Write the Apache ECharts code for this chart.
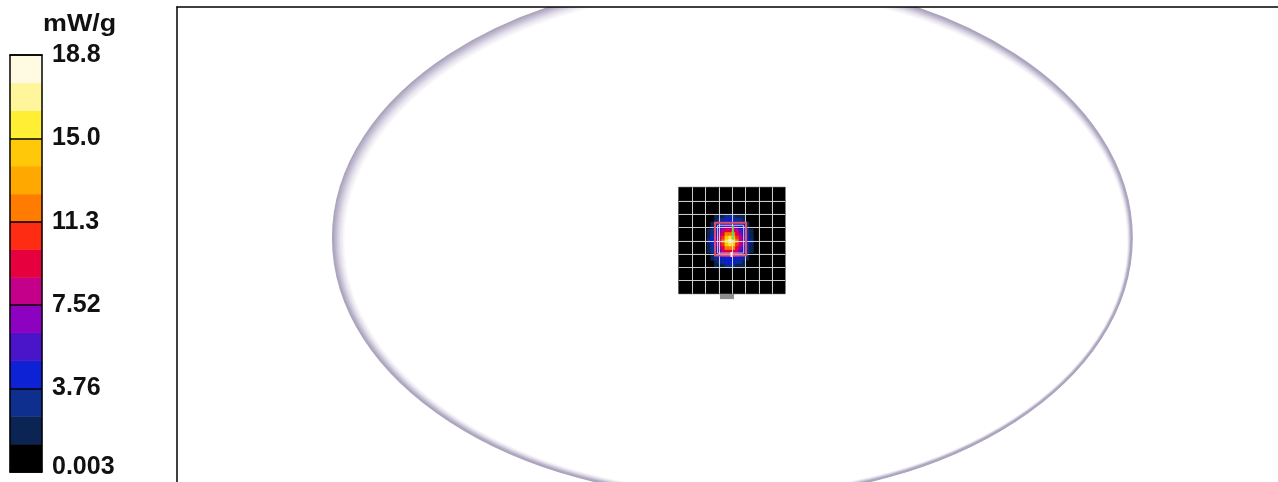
<!DOCTYPE html>
<html><head><meta charset="utf-8">
<script src="https://cdn.jsdelivr.net/npm/echarts@6/dist/echarts.min.js"></script>
<style>html,body{margin:0;padding:0;background:#fff}#c{width:1278px;height:482px}</style>
</head><body><div id="c"></div>
<script>
// ---------- legend (colour scale) ----------
const unitLabel = 'mW/g';
const tickLabels = ['0.003', '3.76', '7.52', '11.3', '15.0', '18.8'];
const tickStep = 3.76;
const scaleMax = 18.8;
const bandBreaks = [0.003, 1.256, 2.51, 3.76, 5.01, 6.27, 7.52, 8.77, 10.03, 11.3, 12.53, 13.79, 15.0, 16.29, 17.55, 18.8];
const bandColors = ['#000000', '#0c2454', '#0e2f8e', '#0c22d4', '#4a14c8', '#8c02c0', '#c4008a', '#e6003e', '#ff2c14',
  '#ff7c00', '#ffa800', '#ffc808', '#ffee34', '#fff59a', '#fffbe2'];

// ---------- phantom outline (mm): centre x, centre y, radius x, radius y ----------
const phantom = [[0.5, 0, 451, 293]];

// ---------- coarse area scan (15 mm grid) ----------
const areaXEdges = [-60, -45, -30, -15, 0, 15, 30, 45, 60];
const areaYEdges = [57, 42, 27, 12, -3, -18, -33, -48, -63];
const areaValues = [
  [0.3, 0.3, 0.4, 0.4, 0.4, 0.4, 0.3, 0.3],
  [0.3, 0.4, 0.5, 0.6, 0.6, 0.5, 0.4, 0.3],
  [0.4, 0.5, 0.7, 0.9, 0.9, 0.7, 0.5, 0.4],
  [0.4, 0.6, 0.9, 1.0, 1.0, 0.9, 0.6, 0.4],
  [0.4, 0.6, 0.9, 1.0, 1.0, 0.9, 0.6, 0.4],
  [0.4, 0.5, 0.7, 0.9, 0.9, 0.7, 0.5, 0.4],
  [0.3, 0.4, 0.5, 0.6, 0.6, 0.5, 0.4, 0.3],
  [0.3, 0.3, 0.4, 0.4, 0.4, 0.4, 0.3, 0.3]
];

// ---------- zoom scan (4 mm cells around the peak) ----------
const zoomStep = 4;
const zoomXCenters = [-26, -22, -18, -14, -10, -6, -2, 2, 6, 10, 14, 18, 22];
const zoomYCenters = [24, 20, 16, 12, 8, 4, 0, -4, -8, -12, -16, -20, -24, -28, -32];
const zoomValues = [
  [0.3, 0.7, 1.3, 2.0, 2.5, 2.7, 2.7, 2.7, 2.5, 2.0, 1.3, 0.7, 0.3],
  [0.4, 0.7, 1.5, 2.6, 3.4, 3.9, 4.1, 3.9, 3.4, 2.6, 1.5, 0.7, 0.4],
  [0.6, 1.4, 2.8, 3.9, 4.2, 4.9, 5.0, 4.9, 4.2, 3.9, 2.8, 1.4, 0.6],
  [0.9, 2.2, 3.8, 4.4, 5.7, 6.9, 7.4, 6.9, 5.7, 4.4, 3.8, 2.2, 0.9],
  [1.4, 3.0, 4.1, 5.6, 7.8, 9.4, 10.0, 9.4, 7.8, 5.6, 4.1, 3.0, 1.4],
  [2.1, 3.7, 4.7, 7.0, 9.7, 11.7, 12.5, 11.7, 9.7, 7.0, 4.7, 3.7, 2.1],
  [2.5, 4.1, 5.2, 8.1, 11.0, 13.9, 15.8, 13.9, 11.0, 8.1, 5.2, 4.1, 2.5],
  [2.7, 4.3, 5.3, 8.5, 11.5, 15.2, 18.5, 15.2, 11.5, 8.5, 5.3, 4.3, 2.7],
  [2.5, 4.1, 5.2, 8.1, 11.0, 13.9, 15.8, 13.9, 11.0, 8.1, 5.2, 4.1, 2.5],
  [2.1, 3.7, 4.7, 7.0, 9.7, 11.7, 12.5, 11.7, 9.7, 7.0, 4.7, 3.7, 2.1],
  [1.4, 3.0, 4.1, 5.6, 7.8, 9.4, 10.0, 9.4, 7.8, 5.6, 4.1, 3.0, 1.4],
  [0.9, 2.2, 3.8, 4.4, 5.7, 6.9, 7.4, 6.9, 5.7, 4.4, 3.8, 2.2, 0.9],
  [0.6, 1.4, 2.8, 3.9, 4.2, 4.9, 5.0, 4.9, 4.2, 3.9, 2.8, 1.4, 0.6],
  [0.4, 0.7, 1.5, 2.6, 3.4, 3.9, 4.1, 3.9, 3.4, 2.6, 1.5, 0.7, 0.4],
  [0.3, 0.7, 1.3, 2.0, 2.5, 2.7, 2.7, 2.7, 2.5, 2.0, 1.3, 0.7, 0.3]
];

// zoom-scan box [x0, y0, x1, y1] (mm), probe markers and device marker
const zoomBox = [[-19, -20, 16, 17]];
const probeLines = [[1, 13, 1, -2], [-0.5, -16, -0.5, -21.5]];
const deviceMarker = [[-13.5, -69, 2.3, -63.2]];

// ---------- build data ----------
const areaData = [];
areaValues.forEach((row, r) => row.forEach((v, c) => {
  areaData.push([(areaXEdges[c] + areaXEdges[c + 1]) / 2, (areaYEdges[r] + areaYEdges[r + 1]) / 2, v,
    areaXEdges[c], areaYEdges[r], areaXEdges[c + 1], areaYEdges[r + 1]]);
}));
const zoomData = [];
zoomValues.forEach((row, r) => row.forEach((v, c) => zoomData.push([zoomXCenters[c], zoomYCenters[r], v])));
const gridLineData = [];
areaXEdges.slice(1, -1).forEach(x => gridLineData.push([x, 0]));
areaYEdges.slice(1, -1).forEach(y => gridLineData.push([y, 1]));
const bandData = bandColors.map((col, i) => [bandBreaks[i], bandBreaks[i + 1], i]);
const pieces = bandColors.map((col, i) => i === bandColors.length - 1
  ? { gte: bandBreaks[i], lte: bandBreaks[i + 1], color: col }
  : { gte: bandBreaks[i], lt: bandBreaks[i + 1], color: col });

const FONT = '"Liberation Sans", Arial, sans-serif';
const chart = echarts.init(document.getElementById('c'));
const noAxisParts = { axisTick: { show: false }, axisLabel: { show: false }, splitLine: { show: false } };
const blackLine = { show: true, onZero: false, lineStyle: { color: '#000', width: 1.5 } };
const rimColors = ['#aca5bd', '#b8b1c8', '#c5bfd3', '#d2cddd', '#dedae7', '#e9e6ef', '#f1eff5', '#f8f7fa'];

function rectFrom(api, x0, y0, x1, y1) {
  const a = api.coord([x0, y0]);
  const b = api.coord([x1, y1]);
  return { x: Math.min(a[0], b[0]), y: Math.min(a[1], b[1]), width: Math.abs(b[0] - a[0]), height: Math.abs(b[1] - a[1]) };
}

chart.setOption({
  animation: false,
  backgroundColor: '#fff',
  grid: [
    { left: 177, top: 7, right: 0, bottom: 0 },
    { left: 10, top: 55, width: 32, height: 417 }
  ],
  xAxis: [
    Object.assign({ gridIndex: 0, type: 'value', min: -625, max: 615, position: 'top', z: 10, axisLine: blackLine }, noAxisParts),
    Object.assign({ gridIndex: 1, type: 'value', min: 0, max: 1, position: 'bottom', z: 10, axisLine: blackLine }, noAxisParts),
    Object.assign({ gridIndex: 1, type: 'value', min: 0, max: 1, position: 'top', z: 10, axisLine: blackLine }, noAxisParts)
  ],
  yAxis: [
    Object.assign({ gridIndex: 0, type: 'value', min: -275, max: 260, position: 'left', z: 10, axisLine: blackLine }, noAxisParts),
    {
      gridIndex: 1, type: 'value', min: 0, max: scaleMax, interval: tickStep, position: 'right', z: 10,
      axisLine: blackLine,
      axisTick: { show: true, inside: true, length: 32, lineStyle: { color: '#000', width: 1.5 } },
      splitLine: { show: false },
      axisLabel: {
        show: true, margin: 10, color: '#111', fontFamily: FONT, fontWeight: 'bold', fontSize: 25,
        formatter: v => {
          const i = Math.round(v / tickStep);
          return i === 0 ? '{low|' + tickLabels[0] + '}' : tickLabels[i];
        },
        rich: { low: { padding: [0, 0, 10, 0], color: '#111', fontFamily: FONT, fontWeight: 'bold', fontSize: 25 } }
      }
    },
    Object.assign({ gridIndex: 1, type: 'value', min: 0, max: scaleMax, position: 'left', z: 10, axisLine: blackLine }, noAxisParts)
  ],
  visualMap: {
    type: 'piecewise', show: false, dimension: 2, seriesIndex: [2, 3], pieces: pieces
  },
  graphic: [{
    type: 'text', x: 43, y: 12, scaleX: 1.12,
    style: { text: unitLabel, font: 'bold 24px ' + FONT, fill: '#111', textVerticalAlign: 'top' }
  }],
  series: [
    { // 0 colour scale bar
      type: 'custom', xAxisIndex: 1, yAxisIndex: 1, data: bandData, z: 2,
      renderItem: (p, api) => ({
        type: 'rect', shape: rectFrom(api, 0, api.value(0), 1, api.value(1)),
        style: { fill: bandColors[api.value(2)], stroke: bandColors[api.value(2)], lineWidth: 0.5 }
      })
    },
    { // 1 phantom outline
      type: 'custom', xAxisIndex: 0, yAxisIndex: 0, data: phantom, z: 1, silent: true,
      renderItem: (p, api) => {
        const c = api.coord([api.value(0), api.value(1)]);
        const s = api.size([api.value(2), api.value(3)]);
        const cs = p.coordSys;
        const children = [];
        for (let k = rimColors.length - 1; k >= 0; k--) {
          children.push({
            type: 'ellipse',
            shape: { cx: c[0] + k * 0.5, cy: c[1] + k * 0.45, rx: s[0] - 1 - k * 1.0, ry: s[1] - 1 - k * 1.0 },
            style: { fill: 'none', stroke: rimColors[k], lineWidth: 2 }
          });
        }
        return {
          type: 'group',
          clipPath: { type: 'rect', shape: { x: cs.x, y: cs.y, width: cs.width, height: cs.height } },
          children: children
        };
      }
    },
    { // 2 coarse area scan
      type: 'custom', xAxisIndex: 0, yAxisIndex: 0, data: areaData, z: 2,
      encode: { x: 0, y: 1 },
      renderItem: (p, api) => {
        const col = api.visual('color');
        return { type: 'rect', shape: rectFrom(api, api.value(3), api.value(4), api.value(5), api.value(6)),
          style: { fill: col, stroke: col, lineWidth: 0.5 } };
      }
    },
    { // 3 fine zoom scan
      type: 'custom', xAxisIndex: 0, yAxisIndex: 0, data: zoomData, z: 3, encode: { x: 0, y: 1 },
      renderItem: (p, api) => {
        const col = api.visual('color');
        const x = api.value(0), y = api.value(1), h = zoomStep / 2;
        return { type: 'rect', shape: rectFrom(api, x - h, y - h, x + h, y + h),
          style: { fill: col, stroke: col, lineWidth: 0.6 } };
      }
    },
    { // 4 area-scan grid lines
      type: 'custom', xAxisIndex: 0, yAxisIndex: 0, data: gridLineData, z: 4, silent: true,
      renderItem: (p, api) => {
        const v = api.value(0), o = api.value(1);
        const x0 = areaXEdges[0], x1 = areaXEdges[areaXEdges.length - 1];
        const y0 = areaYEdges[0], y1 = areaYEdges[areaYEdges.length - 1];
        const a = o === 0 ? api.coord([v, y0]) : api.coord([x0, v]);
        const b = o === 0 ? api.coord([v, y1]) : api.coord([x1, v]);
        const snap = t => Math.round(t) + 0.5;
        const shape = o === 0
          ? { x1: snap(a[0]), y1: a[1], x2: snap(b[0]), y2: b[1] }
          : { x1: a[0], y1: snap(a[1]), x2: b[0], y2: snap(b[1]) };
        return { type: 'line', shape: shape, style: { stroke: 'rgba(225,225,225,0.9)', lineWidth: 1 } };
      }
    },
    { // 5 zoom-scan box
      type: 'custom', xAxisIndex: 0, yAxisIndex: 0, data: zoomBox, z: 5, silent: true,
      renderItem: (p, api) => {
        const r = rectFrom(api, api.value(0), api.value(1), api.value(2), api.value(3));
        return { type: 'group', children: [
          { type: 'rect', shape: r, style: { fill: 'none', stroke: '#e44e68', lineWidth: 2 } },
          { type: 'rect', shape: { x: r.x + 2.5, y: r.y + 2.5, width: r.width - 5, height: r.height - 5 },
            style: { fill: 'none', stroke: 'rgba(245,215,235,0.85)', lineWidth: 1 } }
        ] };
      }
    },
    { // 6 probe lines
      type: 'custom', xAxisIndex: 0, yAxisIndex: 0, data: probeLines, z: 6, silent: true,
      renderItem: (p, api) => {
        const a = api.coord([api.value(0), api.value(1)]);
        const b = api.coord([api.value(2), api.value(3)]);
        return { type: 'line', shape: { x1: a[0], y1: a[1], x2: b[0], y2: b[1] },
          style: { stroke: p.dataIndex === 0 ? '#6ad85a' : '#f2f2f2', lineWidth: 2 } };
      }
    },
    { // 7 device marker
      type: 'custom', xAxisIndex: 0, yAxisIndex: 0, data: deviceMarker, z: 2, silent: true,
      renderItem: (p, api) => ({
        type: 'rect', shape: rectFrom(api, api.value(0), api.value(1), api.value(2), api.value(3)),
        style: { fill: '#8e8e8e' }
      })
    }
  ]
});
</script>
</body></html>
